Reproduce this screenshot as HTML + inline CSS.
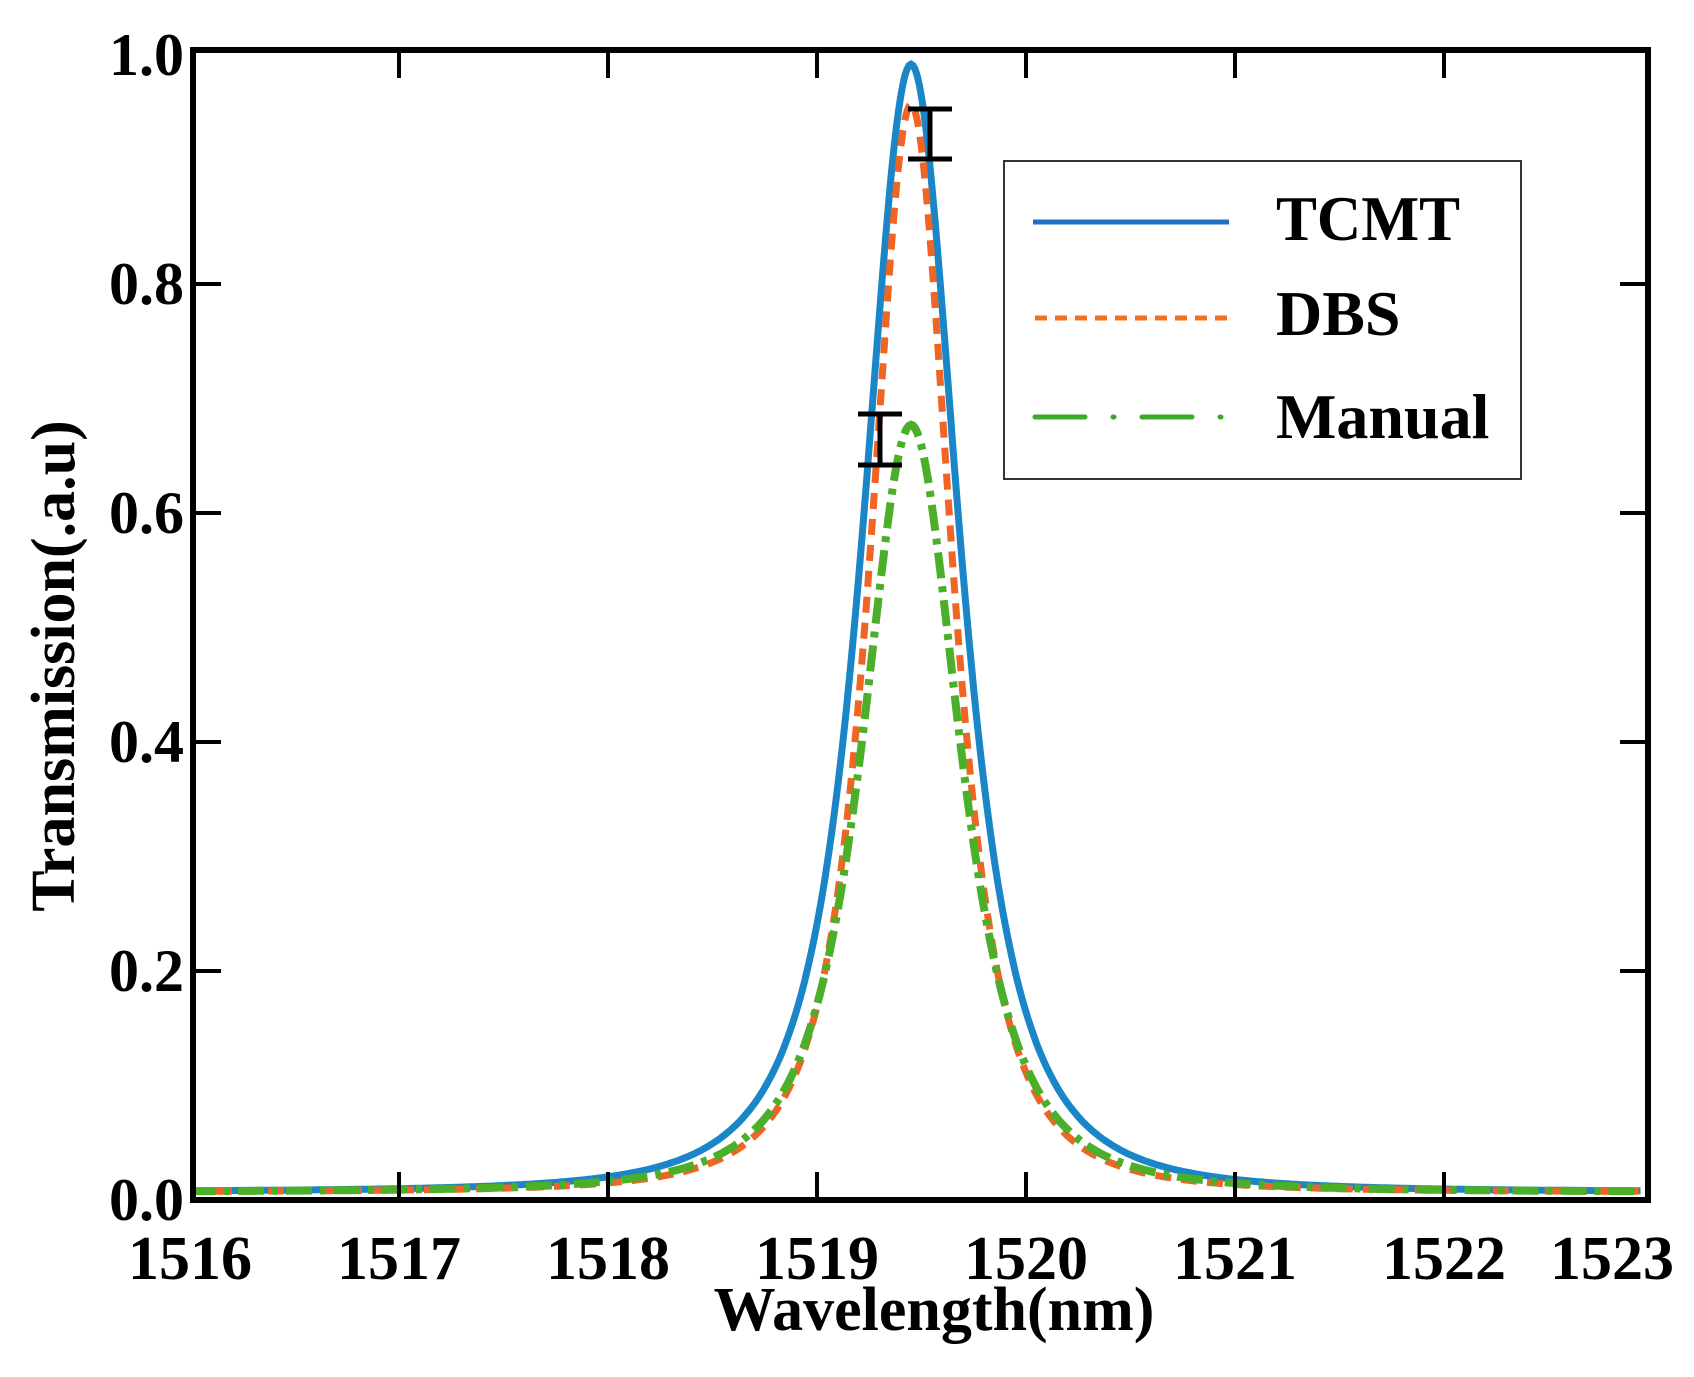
<!DOCTYPE html>
<html><head><meta charset="utf-8"><style>
html,body{margin:0;padding:0;background:#fff;}
svg{display:block;}
text{font-family:"Liberation Serif",serif;font-weight:bold;fill:#000;}
</style></head><body>
<svg id="s" width="1694" height="1377" viewBox="0 0 1694 1377" xmlns="http://www.w3.org/2000/svg">
<rect width="1694" height="1377" fill="#fff"/>
<g id="curves"></g>
<g stroke="#000" stroke-width="5" fill="none">
<line x1="930" y1="109" x2="930" y2="159"/><line x1="908" y1="109" x2="952" y2="109"/><line x1="908" y1="159" x2="952" y2="159"/>
<line x1="880" y1="414" x2="880" y2="465"/><line x1="858" y1="414" x2="902" y2="414"/><line x1="858" y1="465" x2="902" y2="465"/>
</g>
<rect x="193" y="50" width="1455" height="1150" fill="none" stroke="#000" stroke-width="6"/>
<g stroke="#000" stroke-width="4" id="ticks"></g>
<g font-size="60" text-anchor="end" id="ylab"></g>
<g font-size="62" text-anchor="middle" id="xlab"></g>
<text x="934" y="1330" font-size="62" text-anchor="middle">Wavelength(nm)</text>
<text transform="translate(74,666) rotate(-90)" font-size="62" text-anchor="middle">Transmission(.a.u)</text>
<rect x="1004" y="161" width="517" height="318" fill="#fff" stroke="#333" stroke-width="2"/>
<line x1="1033" y1="222" x2="1229" y2="222" stroke="#1f6fc6" stroke-width="5"/>
<line x1="1035" y1="318" x2="1229" y2="318" stroke="#f37021" stroke-width="5" stroke-dasharray="12,8"/>
<line x1="1035" y1="417" x2="1229" y2="417" stroke="#3ca82a" stroke-width="5" stroke-dasharray="50,28,1,28" stroke-linecap="round"/>
<text x="1276" y="240" font-size="64" textLength="184" lengthAdjust="spacingAndGlyphs">TCMT</text>
<text x="1276" y="335" font-size="64">DBS</text>
<text x="1276" y="438" font-size="64">Manual</text>
</svg>
<script>
var NS="http://www.w3.org/2000/svg";
function X(l){return 817+(l-1519)*209;}
function Y(v){return 1200-v*1145;}
function path(A,g,base,c){var d="";for(var l=1516;l<=1522.94;l+=0.01){var v=A*Math.pow(1+Math.pow((l-c)/g,2),-1.5)+base;d+=(d?"L":"M")+X(l).toFixed(1)+","+Y(v).toFixed(1);}return d;}
function add(d,col,w,dash,cap){var p=document.createElementNS(NS,"path");p.setAttribute("d",d);p.setAttribute("fill","none");p.setAttribute("stroke",col);p.setAttribute("stroke-width",w);if(dash)p.setAttribute("stroke-dasharray",dash);if(cap)p.setAttribute("stroke-linecap",cap);document.getElementById("curves").appendChild(p);}
add(path(0.985,0.355,0.007,1519.45),"#1a86c8",7);
add(path(0.95,0.30,0.007,1519.45),"#f06424",7,"16,10");
add(path(0.67,0.36,0.007,1519.45),"#4caf2a",8,"26,8,6,8");
var t=document.getElementById("ticks");
function ln(a,b,c,d){var l=document.createElementNS(NS,"line");l.setAttribute("x1",a);l.setAttribute("y1",b);l.setAttribute("x2",c);l.setAttribute("y2",d);t.appendChild(l);}
var xl=document.getElementById("xlab");
for(var k=1516;k<=1523;k++){var x=X(k);if(k>1516&&k<1523){ln(x,1200,x,1172);ln(x,50,x,78);}var tx=document.createElementNS(NS,"text");tx.setAttribute("x",k==1523?1612:x);tx.setAttribute("y",1279);tx.textContent=k;xl.appendChild(tx);}
var yl=document.getElementById("ylab");
for(var i=0;i<=5;i++){var v=i*0.2,y=Y(v);if(i>0&&i<5){ln(193,y,221,y);ln(1648,y,1620,y);}var ty=document.createElementNS(NS,"text");ty.setAttribute("x",184);ty.setAttribute("y",y+20);ty.textContent=v.toFixed(1);yl.appendChild(ty);}
</script>
</body></html>
